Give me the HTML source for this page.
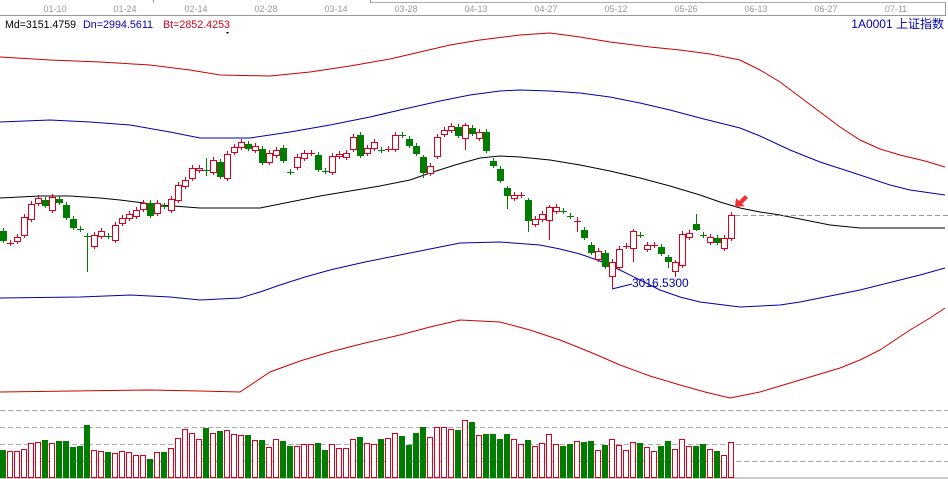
<!DOCTYPE html>
<html><head><meta charset="utf-8"><style>
html,body{margin:0;padding:0;background:#fff;width:948px;height:479px;overflow:hidden}
svg{display:block}
text{font-family:"Liberation Sans","Noto Sans CJK SC",sans-serif}
</style></head><body>
<svg id="s" width="948" height="479" xmlns="http://www.w3.org/2000/svg">
<rect width="948" height="479" fill="#fff"/>
<line x1="0" y1="15.5" x2="946" y2="15.5" stroke="#999"/>
<line x1="370" y1="2.5" x2="946" y2="2.5" stroke="#aaa"/>
<line x1="945.5" y1="2" x2="945.5" y2="15" stroke="#999"/>
<line x1="153.5" y1="0" x2="153.5" y2="3" stroke="#999"/>
<line x1="370.5" y1="0" x2="370.5" y2="3" stroke="#999"/>
<g font-size="9" fill="#999" text-anchor="middle">
<text x="55" y="12">01-10</text><text x="125" y="12">01-24</text><text x="196" y="12">02-14</text><text x="266" y="12">02-28</text><text x="336" y="12">03-14</text><text x="406" y="12">03-28</text><text x="476" y="12">04-13</text><text x="546" y="12">04-27</text><text x="616" y="12">05-12</text><text x="686" y="12">05-26</text><text x="756" y="12">06-13</text><text x="826" y="12">06-27</text><text x="896" y="12">07-11</text>
</g>
<g font-size="11">
<text x="5" y="28" fill="#000" textLength="71" lengthAdjust="spacingAndGlyphs">Md=3151.4759</text>
<text x="83" y="28" fill="#0000b0" textLength="70" lengthAdjust="spacingAndGlyphs">Dn=2994.5611</text>
<text x="163" y="28" fill="#d00020" textLength="67" lengthAdjust="spacingAndGlyphs">Bt=2852.4253</text>
<text x="944" y="28" fill="#0000b0" text-anchor="end" font-size="12">1A0001  上证指数</text>
</g>
<path d="M226 32 l3 0 l-1.5 2z" fill="#000"/>
<g fill="none" stroke-width="1">
<polyline stroke="#cc0000" points="0,57 50,60 100,62 150,65 190,70 220,75 270,76 310,72 350,66 390,59 420,52 450,45 480,40 520,35 550,33 580,37 610,42 650,47 680,50 710,54 740,60 760,70 780,82 800,97 820,112 840,127 860,140 880,149 900,155 925,161 945,167"/>
<polyline stroke="#0000aa" points="0,122 50,120 90,122 130,125 170,132 200,138 250,138 290,132 330,125 370,117 400,110 440,101 470,95 500,91 520,90 550,91 580,93 610,97 640,103 670,110 700,118 740,128 760,136 790,150 820,162 860,175 890,185 910,190 945,195"/>
<polyline stroke="#000" points="0,198 40,196 70,196 100,198 120,200 160,205 200,208 260,208 290,202 320,196 350,191 380,186 410,180 430,173 455,165 480,158 500,156 520,157 550,160 580,165 610,171 640,178 670,186 700,195 720,202 740,208 760,212 780,215 805,220 830,225 860,228 945,228"/>
<polyline stroke="#0000aa" points="0,298 80,297 130,295 170,297 200,300 240,298 260,292 280,285 305,277 330,270 365,262 400,255 430,249 460,243 500,242 540,245 560,249 580,254 600,261 620,270 640,280 660,290 680,297 700,302 740,307 780,305 800,302 820,298 860,290 900,280 920,275 945,268"/>
<polyline stroke="#cc0000" points="0,392 150,390 200,391 240,392 255,382 270,372 300,361 330,352 365,343 400,335 430,327 460,320 500,322 530,330 560,340 590,352 620,365 650,376 680,385 705,392 730,398 760,392 780,386 800,380 840,368 860,360 880,350 895,340 910,330 930,318 945,308"/>
</g>
<line x1="735" y1="215.5" x2="948" y2="215.5" stroke="#999" stroke-dasharray="5,3"/>
<polygon points="735,207 736,198 739,201 745,195 748,198 742,204 745,206" fill="#f03030"/>
<polyline points="612,289 632,284" fill="none" stroke="#0000aa"/>
<text x="632" y="287" font-size="12" fill="#0000aa">3016.5300</text>
<g stroke="#aaa" stroke-dasharray="5,3">
<line x1="0" y1="410.5" x2="948" y2="410.5"/><line x1="0" y1="427.5" x2="948" y2="427.5"/><line x1="0" y1="444.5" x2="948" y2="444.5"/><line x1="0" y1="461.5" x2="948" y2="461.5"/>
</g>
<line x1="0" y1="478" x2="948" y2="478" stroke="#999"/>
<g id="c"></g>
</svg>
<script>
var R="#d8001c",G="#007d00";
var C=[["g",231,240],["r",243,243],["r",237,241],["r",217,235],["r",204,219],["r",198,203],["g",200,205],["r",197,210],["g",199,202],["g",205,217],["g",219,227],["g",229,229],["g",236,236,233,272],["r",235,246],["r",231,236],["g",236,236],["r",225,240],["r",218,223],["r",214,218],["r",210,216],["r",203,209],["g",203,215],["r",203,213],["g",206,206],["r",199,210],["r",185,200],["r",180,186],["r",168,178],["r",168,170],["g",170,170,158,176],["r",160,172],["g",162,176],["r",154,178],["r",147,152],["r",142,147],["g",144,148],["r",146,150],["g",149,162],["r",153,162],["r",150,155],["g",148,160],["g",172,172],["r",157,167],["r",153,158],["r",153,153],["g",155,169],["g",171,171],["r",156,172],["r",154,156],["r",153,157],["r",137,149],["g",135,155],["r",148,153],["r",142,148],["g",150,150],["r",149,149],["r",135,149],["g",135,135],["g",139,145],["g",146,153],["g",157,172,155,178],["r",166,173],["r",137,156],["r",130,134],["r",126,130],["g",127,135],["r",125,138,123,150],["g",128,133],["r",132,138],["g",132,150],["g",161,165],["g",169,180],["g",188,195,186,209],["r",195,198],["r",195,195],["g",200,220,198,232],["r",219,224],["r",214,219],["r",207,220,205,240],["r",207,211],["g",211,211],["g",216,216],["r",221,221,217,232],["g",230,237],["g",245,252],["r",251,259],["g",253,266],["r",262,276,259,289],["r",249,267],["r",246,246],["r",231,248,229,262],["g",235,235],["r",245,249],["r",245,245],["g",247,253],["g",257,261,255,268],["r",262,271,260,277],["r",234,265],["r",233,237],["g",224,229,214,231],["g",235,235],["r",237,242],["g",238,242],["r",238,248],["r",215,238]];
var V=[[450,"g"],[451,"r"],[451,"r"],[449,"r"],[443,"r"],[442,"r"],[440,"g"],[443,"r"],[441,"g"],[441,"g"],[447,"g"],[446,"g"],[425,"g"],[450,"r"],[451,"r"],[452,"g"],[453,"r"],[451,"r"],[452,"r"],[455,"r"],[455,"r"],[459,"g"],[452,"r"],[452,"g"],[448,"r"],[438,"r"],[429,"r"],[433,"r"],[439,"r"],[428,"g"],[433,"r"],[431,"g"],[430,"r"],[434,"r"],[435,"r"],[435,"g"],[440,"r"],[440,"g"],[447,"r"],[439,"r"],[441,"g"],[446,"g"],[446,"r"],[444,"r"],[444,"r"],[443,"g"],[450,"g"],[444,"r"],[448,"r"],[448,"r"],[439,"r"],[437,"g"],[443,"r"],[444,"r"],[439,"g"],[438,"r"],[433,"r"],[436,"g"],[445,"g"],[433,"g"],[427,"g"],[437,"r"],[427,"r"],[427,"r"],[429,"r"],[430,"g"],[420,"r"],[422,"g"],[435,"r"],[434,"g"],[434,"g"],[439,"g"],[434,"g"],[439,"r"],[444,"r"],[440,"g"],[446,"r"],[443,"r"],[434,"r"],[444,"r"],[446,"g"],[444,"g"],[441,"r"],[442,"g"],[441,"g"],[450,"r"],[445,"g"],[439,"r"],[445,"r"],[450,"r"],[442,"r"],[443,"g"],[447,"r"],[451,"r"],[446,"g"],[441,"g"],[449,"r"],[439,"r"],[446,"r"],[446,"g"],[444,"g"],[449,"r"],[451,"g"],[455,"r"],[442,"r"]];
var h="";
C.forEach(function(c,i){var x=7*i,col=c[0]=="r"?R:G,t=c[1],b=c[2],wt=c[3]||t-3,wb=c[4]||b+3;
h+='<line x1="'+(x+3.5)+'" y1="'+wt+'" x2="'+(x+3.5)+'" y2="'+wb+'" stroke="'+col+'"/>';
if(b-t<1){h+='<line x1="'+x+'" y1="'+(t+.5)+'" x2="'+(x+7)+'" y2="'+(t+.5)+'" stroke="'+col+'"/>';}
else if(c[0]=="r"){h+='<rect x="'+(x+.5)+'" y="'+(t+.5)+'" width="6" height="'+(b-t)+'" fill="#fff" stroke="'+col+'"/>';}
else{h+='<rect x="'+x+'" y="'+t+'" width="7" height="'+(b-t+1)+'" fill="'+col+'"/>';}
});
V.forEach(function(v,i){var x=7*i,t=v[0];
if(v[1]=="r")h+='<rect x="'+(x+.5)+'" y="'+(t+.5)+'" width="5" height="'+(477-t)+'" fill="#fff" stroke="'+R+'"/>';
else h+='<rect x="'+x+'" y="'+t+'" width="6" height="'+(478-t)+'" fill="'+G+'"/>';});
document.getElementById("c").innerHTML=h;
</script>
</body></html>
